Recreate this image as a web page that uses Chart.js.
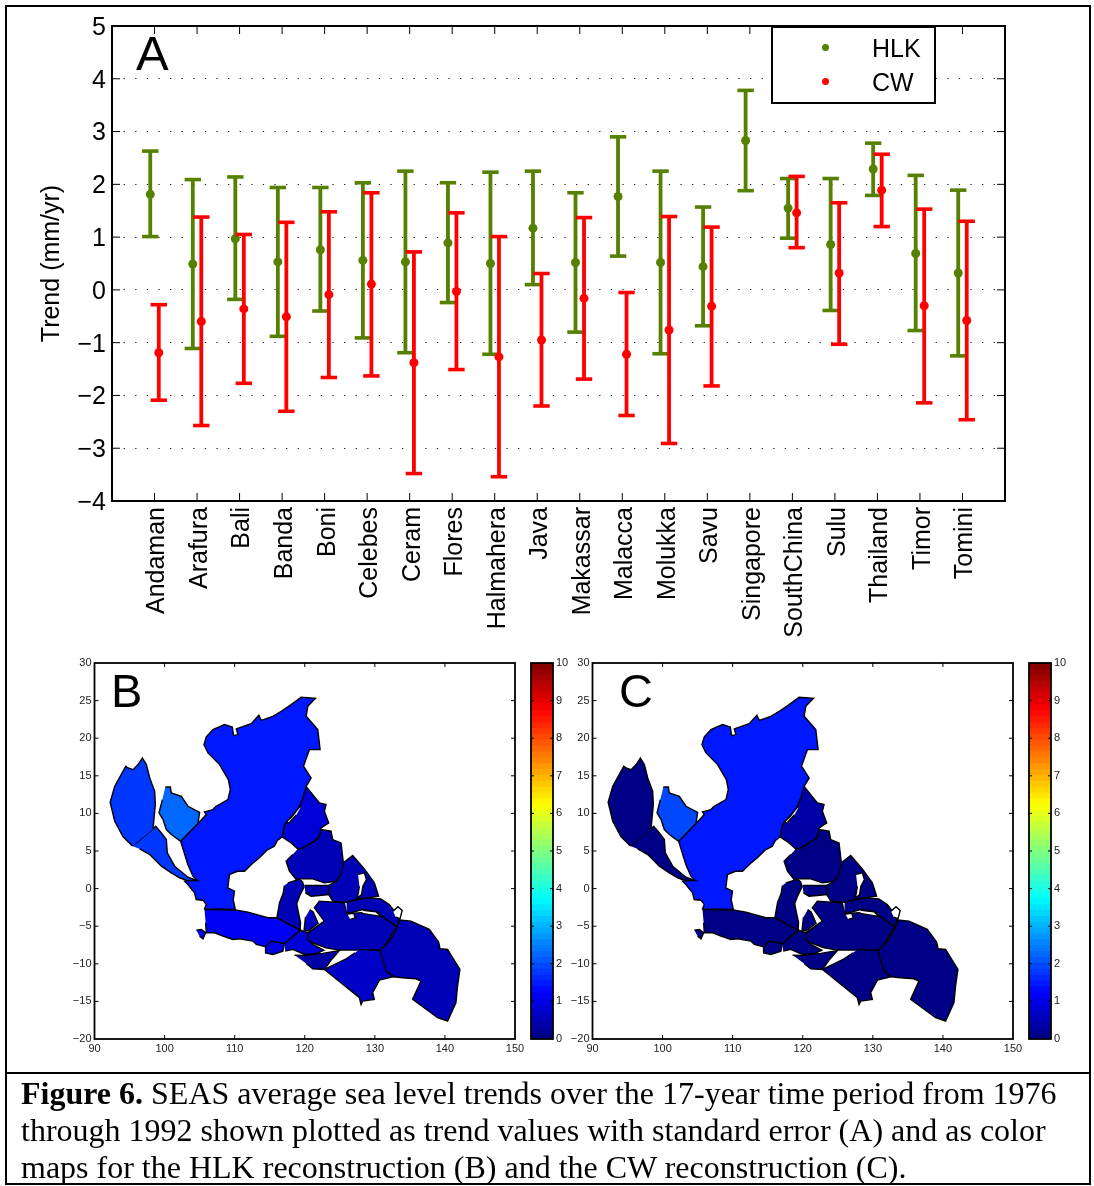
<!DOCTYPE html>
<html>
<head>
<meta charset="utf-8">
<title>SEAS sea level trends</title>
<script src="https://cdn.jsdelivr.net/npm/chart.js@4"></script>
<style>
    body { margin: 0; background: #fff; }
    #page { position: relative; width: 1094px; height: 1186px; overflow: hidden; font-family: "Liberation Sans", sans-serif; color: #000; }
    #page canvas { position: absolute; }
    .frame { position: absolute; border: 2px solid #000; box-sizing: border-box; }
    .letter { position: absolute; line-height: 1; font-size: 47px; }
    #legendBox { position: absolute; left: 771px; top: 26px; width: 165px; height: 78px; box-sizing: border-box; border: 2px solid #000; background: #fff; font-size: 25px; }
    #legendBox i { position: absolute; left: 49px; width: 7px; height: 7px; border-radius: 50%; }
    #legendBox span { position: absolute; left: 99px; line-height: 1; }
    #caption { position: absolute; left: 21px; top: 1075px; width: 1060px; font-family: "Liberation Serif", serif; font-size: 32px; line-height: 37px; white-space: nowrap; }
</style>
</head>
<body>
<div id="page">
    <canvas id="trendChart" width="1094" height="650" style="left:0;top:0"></canvas>
    <canvas id="mapB" width="530" height="410" style="left:0;top:650px"></canvas>
    <canvas id="barB" width="60" height="410" style="left:520px;top:650px"></canvas>
    <canvas id="mapC" width="530" height="410" style="left:498px;top:650px"></canvas>
    <canvas id="barC" width="60" height="410" style="left:1018px;top:650px"></canvas>
    <div class="letter" style="left:136px;top:29px;font-size:49px">A</div>
    <div class="letter" style="left:111px;top:667px">B</div>
    <div class="letter" style="left:619px;top:667px">C</div>
    <div id="legendBox">
        <i style="top:16px;background:#558000"></i><span style="top:8px">HLK</span>
        <i style="top:50px;background:#ff0000"></i><span style="top:42px">CW</span>
    </div>
    <div class="frame" style="left:5px;top:5px;width:1086px;height:1180px"></div>
    <div class="frame" style="left:5px;top:1072px;width:1086px;height:0;border-width:2px 0 0 0"></div>
    <div id="caption"><b>Figure 6.</b> SEAS average sea level trends over the 17-year time period from 1976<br>through 1992 shown plotted as trend values with standard error (A) and as color<br>maps for the HLK reconstruction (B) and the CW reconstruction (C).</div>
</div>

<script>
// Trend values (mm/yr)
const categories = ['Andaman', 'Arafura', 'Bali', 'Banda', 'Boni', 'Celebes', 'Ceram', 'Flores', 'Halmahera', 'Java',
    'Makassar', 'Malacca', 'Molukka', 'Savu', 'Singapore', 'SouthChina', 'Sulu', 'Thailand', 'Timor', 'Tomini'];

const hlkMean = [1.81, 0.49, 0.97, 0.53, 0.76, 0.56, 0.53, 0.89, 0.50, 1.17, 0.52, 1.77, 0.52, 0.44, 2.83, 1.55, 0.86, 2.29, 0.69, 0.32];
const hlkUpper = [2.63, 2.09, 2.14, 1.94, 1.94, 2.03, 2.25, 2.03, 2.23, 2.25, 1.84, 2.90, 2.25, 1.57, 3.78, 2.11, 2.11, 2.78, 2.17, 1.89];
const hlkLower = [1.01, -1.11, -0.18, -0.88, -0.40, -0.91, -1.19, -0.24, -1.22, 0.10, -0.80, 0.64, -1.21, -0.68, 1.88, 0.98, -0.39, 1.79, -0.77, -1.25];

const cwMean = [-1.19, -0.60, -0.36, -0.51, -0.09, 0.11, -1.38, -0.03, -1.27, -0.95, -0.16, -1.22, -0.76, -0.31, null, 1.46, 0.32, 1.89, -0.30, -0.58];
const cwUpper = [-0.28, 1.38, 1.05, 1.28, 1.48, 1.84, 0.72, 1.46, 1.01, 0.31, 1.37, -0.05, 1.39, 1.19, null, 2.15, 1.65, 2.57, 1.53, 1.30];
const cwLower = [-2.09, -2.57, -1.77, -2.30, -1.66, -1.63, -3.48, -1.51, -3.54, -2.20, -1.69, -2.38, -2.91, -1.82, null, 0.80, -1.03, 1.20, -2.14, -2.46];

const andamanOutline = [[95.41, 5.68], [94.08, 6.88], [92.89, 8.96], [92.23, 11.48], [92.89, 13.61], [94.46, 16.27], [94.79, 16.04], [95.5, 15.82], [96.22, 16.49], [96.83, 17.37], [97.4, 16.49], [97.88, 14.72], [98.59, 12.94], [98.68, 11.17], [98.35, 7.94]];
const malaccaOutline = [[95.41, 5.68], [98.35, 7.94], [98.73, 8.3], [99.54, 7.41], [100.25, 6.52], [100.39, 4.75], [101.44, 2.98], [103.34, 1.52], [104.62, 1.08], [103.2, 1.08], [102.15, 1.43], [100.96, 2.09], [99.54, 2.98], [97.88, 4.53], [96.45, 5.28]];
const thailandOutline = [[100.11, 13.52], [100.82, 13.52], [100.96, 12.72], [102.39, 12.28], [103.34, 10.95], [105, 10.15], [104.76, 8.65], [102.29, 6.3], [100.96, 7.19], [100.25, 7.85], [99.78, 9.18], [99.21, 10.07], [99.68, 11.84]];
const southChinaOutline = [[104.76, 8.65], [105.3, 9.2], [105.95, 9.84], [105.7, 10.2], [106.9, 10.51], [107.3, 10.9], [109.04, 11.84], [109.37, 13.17], [109.1, 14.5], [107.85, 16.49], [106.19, 18.04], [105.62, 19.15], [105.95, 20.17], [106.9, 21.14], [108.56, 21.81], [109.66, 21.5], [109.85, 20.34], [110.46, 20.48], [110.23, 21.23], [112.36, 21.94], [113.45, 23.05], [113.79, 22.38], [115.45, 22.91], [116.64, 23.58], [118.06, 24.46], [119.48, 25.44], [121.53, 25.3], [120.43, 24.24], [120.2, 22.91], [121.86, 21.14], [122.19, 18.48], [120.67, 18.48], [119.82, 16.27], [120.91, 14.72], [120.2, 13.6], [119.72, 12.05], [119, 10.5], [117.1, 8.51], [116.77, 6.87], [116.1, 6.4], [115.67, 5.64], [114.6, 5.1], [113.53, 4.09], [112.5, 3.3], [111.4, 2.31], [110.4, 2.3], [109.26, 1.87], [109.02, 0.1], [109.97, -0.34], [109.8, -1.5], [110.1, -2.78], [105.7, -2.69], [105.94, -2.1], [105.46, -1.54], [104.51, -1.45], [104.27, -0.56], [103.32, 0.54], [102.85, 0.99], [104.51, 1.21], [104.04, 1.65], [103.32, 3.2], [102.29, 6.3]];
const suluOutline = [[120.19, 13.6], [122.09, 11.39], [123.04, 11.17], [122.8, 10.28], [123.42, 8.73], [122.33, 8.07], [122, 6.74], [120.9, 6.08], [119.72, 5.41], [119, 5.28], [118.06, 6.08], [116.77, 6.87], [117.1, 8.51], [119, 10.5], [119.72, 12.05]];
const celebesOutline = [[119, 5.28], [119.72, 5.41], [120.9, 6.08], [122, 6.74], [122.33, 7.85], [123.75, 7.63], [123.99, 6.52], [125.18, 6.08], [125.51, 3.42], [125.18, 1.87], [124.47, 0.98], [122.8, 0.76], [121.14, 1.29], [119.24, 1.29], [118.77, 1.2], [117.82, 2.31], [117.34, 3.64], [118.29, 4.53]];
const molukkaOutline = [[125.51, 3.42], [126.84, 4.4], [128.5, 2.62], [129.93, 0.76], [130.54, -1.01], [127.32, -1.45], [125.99, -1.81], [123.99, -1.67], [123.42, -0.79], [123.42, 0.41], [124.47, 0.98], [125.18, 1.87]];
const tominiOutline = [[119.96, 0.41], [123.42, 0.41], [123.42, -0.79], [122.09, -0.92], [120.9, -1.01], [120.1, -0.57]];
const makassarOutline = [[117.58, 0.76], [119.24, 1.25], [119.7, 0.9], [119.9, 0.2], [119.3, -0.9], [118.85, -2], [119.1, -3.2], [119.4, -4.5], [119.34, -5.52], [116.02, -3.88], [116.4, -1.89], [116.9, -0.7], [117.1, 0.4]];
const boniOutline = [[120.7, -2.8], [121.2, -3.1], [121.9, -4.6], [120.5, -5.6], [119.9, -5.6], [120.1, -3.8]];
const javaOutline = [[105.7, -2.8], [110.1, -2.85], [111.89, -3.13], [114.74, -3.88], [116.02, -3.88], [119.34, -5.52], [117.11, -7.29], [115.21, -6.98], [114.41, -7.74], [113.08, -7.43], [112.6, -6.98], [110.7, -6.68], [109.75, -6.76], [108.33, -6.32], [107.14, -5.88], [105.95, -5.88], [105.86, -4.55]];
const sundaOutline = [[104.53, -5.52], [105.24, -5.43], [105.86, -5.88], [105.48, -6.68], [105, -6.32]];
const baliOutline = [[115.21, -6.98], [117.11, -7.29], [116.88, -8.31], [115.45, -8.76], [114.41, -8.54], [114.41, -7.74]];
const floresOutline = [[117.11, -7.29], [119.34, -5.52], [120.42, -5.88], [120.44, -6.76], [121.15, -7.43], [122.72, -8.18], [121.62, -8.67], [119.96, -8.76], [118.3, -8.09], [117.21, -8.31]];
const savuOutline = [[118.54, -8.84], [119.96, -8.89], [122.57, -8.62], [124.95, -8.22], [123.76, -9.51], [122.81, -10.75], [121.15, -10.66], [120.2, -9.95]];
const timorOutline = [[127.8, -8.09], [130.74, -8.22], [131.6, -10.97], [132.64, -11.72], [130.65, -12.17], [129.7, -13.85], [129.93, -14.73], [128.27, -14.96], [128.03, -15.4], [127.8, -14.51], [122.81, -10.75], [124, -10.22], [125.9, -9.33], [127.18, -8.53]];
const arafuraOutline = [[130.74, -8.22], [132.07, -7], [132.93, -5.66], [133.59, -4.19], [135.16, -4.33], [137.77, -5.43], [138.48, -6.32], [139.1, -7.1], [139.3, -8], [140.38, -8.09], [142.14, -10.75], [141.8, -12.96], [141.57, -15.18], [140.38, -17.61], [138.96, -17.17], [135.39, -14.73], [136.58, -12.3], [135.87, -11.99], [133.97, -11.86], [132.64, -11.72], [131.6, -10.97]];
const bandaOutline = [[120.42, -5.88], [122.79, -4.33], [121.37, -2.56], [122.08, -1.67], [125.64, -1.89], [125.97, -3.31], [128.25, -3.2], [130.15, -3.2], [131.1, -3.75], [133.1, -5.08], [132.05, -6.76], [131, -8.18], [127.3, -8.18], [124.93, -8.18], [123.03, -7.87], [120.42, -6.99]];
const ceramOutline = [[125.97, -1.8], [128.73, -1.23], [130.86, -1.36], [132.05, -2.11], [133.57, -3.89], [133.1, -5.08], [131.1, -3.75], [130.39, -3.13], [128.25, -2.78], [126.59, -3.22], [125.97, -3.31]];

// Islands that stay white on top of the regions
const halmaheraIsland = [[127.6, 1.9], [128.5, 2.1], [128.8, 1.2], [128.3, 0.3], [128.1, -0.8], [127.5, -1.3], [127.8, 0.3]];
const palawanIsland = [[119.45, 10.9], [119.2, 10.8], [118.2, 9.6], [117.4, 8.9], [117.7, 8.7], [118.8, 9.8]];
const buruIsland = [[126.1, -3.4], [127, -3.3], [127.2, -3.9], [126.5, -4.1]];
const seramIsland = [[128.3, -2.9], [130.2, -3.1], [130.9, -3.7], [129.5, -3.5], [128.2, -3.3]];
const birdHeadIsland = [[132.6, -3], [133.3, -2.4], [133.9, -2.9], [133.6, -4], [133, -3.8]];

const mapRegions = [
    { name: 'Andaman', outline: andamanOutline }, { name: 'Malacca', outline: malaccaOutline },
    { name: 'Thailand', outline: thailandOutline }, { name: 'SouthChina', outline: southChinaOutline },
    { name: 'Sulu', outline: suluOutline }, { name: 'Celebes', outline: celebesOutline },
    { name: 'Molukka', outline: molukkaOutline }, { name: 'Tomini', outline: tominiOutline },
    { name: 'Makassar', outline: makassarOutline }, { name: 'Boni', outline: boniOutline },
    { name: 'Java', outline: javaOutline }, { name: 'Java', outline: sundaOutline },
    { name: 'Bali', outline: baliOutline }, { name: 'Flores', outline: floresOutline },
    { name: 'Savu', outline: savuOutline }, { name: 'Timor', outline: timorOutline },
    { name: 'Arafura', outline: arafuraOutline }, { name: 'Banda', outline: bandaOutline },
    { name: 'Ceram', outline: ceramOutline }
];
const mapIslands = [halmaheraIsland, palawanIsland, buruIsland, seramIsland, birdHeadIsland];

const GREEN = '#558000';
const RED = '#ff0000';
const FONT = '"Liberation Sans", sans-serif';

Chart.defaults.animation = false;
Chart.defaults.responsive = false;
Chart.defaults.color = '#000';

// Matlab style box with inward ticks, drawn from the chart's own scales
const axesBox = {
    id: 'axesBox',
    afterDatasetsDraw(chart, args, opts) {
        const { ctx, chartArea: a, scales } = chart;
        ctx.save();
        ctx.strokeStyle = '#000';
        ctx.lineWidth = opts.tickWidth;
        ctx.beginPath();
        if (scales.x && opts.xTicks) {
            scales.x.ticks.forEach((t, i) => {
                const px = scales.x.getPixelForTick(i);
                if (px <= a.left + 1 || px >= a.right - 1) return;
                ctx.moveTo(px, a.bottom); ctx.lineTo(px, a.bottom - opts.length);
                ctx.moveTo(px, a.top); ctx.lineTo(px, a.top + opts.length);
            });
        }
        scales.y.ticks.forEach((t, i) => {
            const py = scales.y.getPixelForTick(i);
            if (py <= a.top + 1 || py >= a.bottom - 1) return;
            ctx.moveTo(a.left, py); ctx.lineTo(a.left + opts.length, py);
            ctx.moveTo(a.right, py); ctx.lineTo(a.right - opts.length, py);
        });
        ctx.stroke();
        ctx.lineWidth = opts.boxWidth;
        ctx.strokeRect(a.left, a.top, a.right - a.left, a.bottom - a.top);
        ctx.restore();
    }
};

const minusSign = v => String(v).replace('-', '\u2212');

// Stems are one line dataset broken by gaps, caps and dots are point datasets
function errorBarDatasets(mean, upper, lower, color, shift) {
    const stems = [];
    const caps = [];
    const dots = [];
    categories.forEach((name, i) => {
        if (mean[i] === null) return;
        const x = i + 1 + shift;
        stems.push({ x: x, y: lower[i] }, { x: x, y: upper[i] }, { x: NaN, y: NaN });
        caps.push({ x: x, y: lower[i] }, { x: x, y: upper[i] });
        dots.push({ x: x, y: mean[i] });
    });
    return [
        { data: dots, pointRadius: 4.5, pointBackgroundColor: color, pointBorderWidth: 0 },
        { data: caps, pointStyle: 'line', pointRadius: 8.2, pointBorderColor: color, pointBorderWidth: 3.6 },
        { data: stems, showLine: true, spanGaps: false, borderColor: color, borderWidth: 3.8, pointRadius: 0 }
    ];
}

new Chart(document.getElementById('trendChart'), {
    type: 'scatter',
    data: {
        datasets: [
            ...errorBarDatasets(cwMean, cwUpper, cwLower, RED, 0.1),
            ...errorBarDatasets(hlkMean, hlkUpper, hlkLower, GREEN, -0.1)
        ]
    },
    options: {
        layout: { padding: { top: 26, right: 89 } },
        plugins: {
            legend: { display: false },
            tooltip: { enabled: false },
            axesBox: { length: 8, tickWidth: 1, boxWidth: 2 , xTicks: true }
        },
        scales: {
            x: {
                type: 'linear', min: 0, max: 21,
                afterBuildTicks: s => { s.ticks = categories.map((c, i) => ({ value: i + 1 })); },
                afterFit: s => { s.height = 149; },
                grid: { display: false, drawTicks: false },
                border: { display: false },
                ticks: {
                    autoSkip: false, minRotation: 90, maxRotation: 90, padding: 6, labelOffset: 3,
                    font: { family: FONT, size: 25 },
                    callback: v => categories[v - 1]
                }
            },
            y: {
                min: -4, max: 5,
                afterFit: s => { s.width = 112; },
                grid: { color: '#222', lineWidth: 1, drawTicks: false },
                border: { display: false, dash: [1.3, 10.3] },
                ticks: { stepSize: 1, padding: 6, labelOffset: 2, font: { family: FONT, size: 25 }, callback: minusSign },
                title: { display: true, text: 'Trend (mm/yr)', font: { family: FONT, size: 25 }, padding: { top: 37, bottom: 0 } }
            }
        }
    },
    plugins: [axesBox]
});

// Matlab jet colormap with 64 levels over 0-10 mm/yr
function jetColor(value) {
    const level = Math.max(0, Math.min(63, Math.floor(value / 10 * 64)));
    const t = (level + 0.5) / 64;
    const ramp = v => Math.round(255 * Math.max(0, Math.min(1, v)));
    const r = ramp(Math.min(4 * t - 1.5, -4 * t + 4.5));
    const g = ramp(Math.min(4 * t - 0.5, -4 * t + 3.5));
    const b = ramp(Math.min(4 * t + 0.5, -4 * t + 2.5));
    return `rgb(${r},${g},${b})`;
}

function drawMap(canvasId, trend) {
    const toPoints = outline => outline.map(p => ({ x: p[0], y: p[1] }));
    const lineStyle = { showLine: true, fill: 'shape', tension: 0, pointRadius: 0, borderColor: '#000', borderWidth: 1.4 };
    const islandSets = mapIslands.map(outline => ({ ...lineStyle, data: toPoints(outline), backgroundColor: '#fff' }));
    const regionSets = mapRegions.map(region => ({
        ...lineStyle,
        label: region.name,
        data: toPoints(region.outline),
        backgroundColor: jetColor(trend[categories.indexOf(region.name)])
    }));

    new Chart(document.getElementById(canvasId), {
        type: 'scatter',
        data: { datasets: [...islandSets, ...regionSets] },
        options: {
            layout: { padding: { top: 13, right: 15 } },
            plugins: {
                legend: { display: false },
                tooltip: { enabled: false },
                axesBox: { length: 4, tickWidth: 1, boxWidth: 1.8, xTicks: true }
            },
            scales: {
                x: {
                    type: 'linear', min: 90, max: 150,
                    afterFit: s => { s.height = 21; },
                    grid: { display: false, drawTicks: false },
                    border: { display: false },
                    ticks: { stepSize: 10, padding: 3, maxRotation: 0, color: '#222', font: { family: FONT, size: 11 } }
                },
                y: {
                    min: -20, max: 30,
                    afterFit: s => { s.width = 94.5; },
                    grid: { display: false, drawTicks: false },
                    border: { display: false },
                    ticks: { stepSize: 5, padding: 3, color: '#222', font: { family: FONT, size: 11 }, callback: minusSign }
                }
            }
        },
        plugins: [axesBox]
    });
}

function drawColorbar(canvasId) {
    const sets = [];
    for (let i = 0; i < 64; i++) {
        const low = i / 6.4;
        sets.push({ data: [[low, (i + 1.2) / 6.4]], backgroundColor: jetColor(low + 0.01), borderWidth: 0, barPercentage: 1, categoryPercentage: 1, grouped: false });
    }
    new Chart(document.getElementById(canvasId), {
        type: 'bar',
        data: { labels: [''], datasets: sets.reverse() },
        options: {
            layout: { padding: { top: 13, bottom: 21, left: 11 } },
            plugins: {
                legend: { display: false },
                tooltip: { enabled: false },
                axesBox: { length: 3, tickWidth: 1, boxWidth: 1.8, xTicks: false }
            },
            scales: {
                x: { display: false },
                y: {
                    position: 'right', min: 0, max: 10,
                    afterFit: s => { s.width = 27; },
                    grid: { display: false, drawTicks: false },
                    border: { display: false },
                    ticks: { stepSize: 1, padding: 3, color: '#222', font: { family: FONT, size: 11 } }
                }
            }
        },
        plugins: [axesBox]
    });
}

drawMap('mapB', hlkMean);
drawMap('mapC', cwMean);
drawColorbar('barB');
drawColorbar('barC');
</script>
</body>
</html>
